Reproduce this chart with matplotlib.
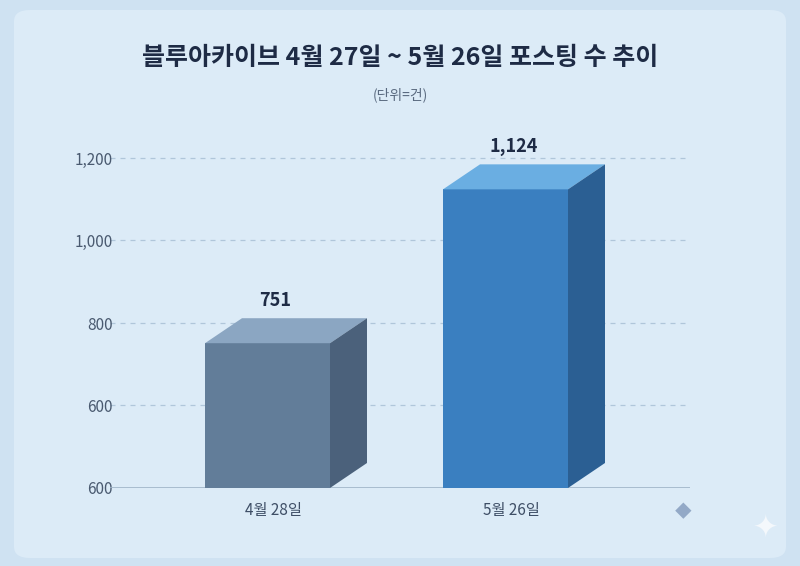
import matplotlib.pyplot as plt
from matplotlib.patches import Polygon, FancyBboxPatch

plt.rcParams['font.family'] = ['Noto Sans CJK KR', 'DejaVu Sans']

categories = ["4월 28일", "5월 26일"]
values = [751, 1124]
value_labels = ["751", "1,124"]
tick_vals = [400, 600, 800, 1000, 1200]
tick_labels = ["600", "600", "800", "1,000", "1,200"]

fronts = ["#627d99", "#3a7fc0"]
tops = ["#8ba6c2", "#6aaee2"]
sides = ["#4b617b", "#2b5f93"]

fig = plt.figure(figsize=(8, 5.66), dpi=100)
fig.patch.set_facecolor("#cfe2f2")
card = FancyBboxPatch((14 / 800, 8 / 566), 772 / 800, 548 / 566,
                      boxstyle="round,pad=0,rounding_size=0.02",
                      transform=fig.transFigure, facecolor="#dcebf7",
                      edgecolor="none", zorder=-5)
fig.patches.append(card)

ax = fig.add_axes([110 / 800, 78 / 566, 580 / 800, 348 / 566])
ax.set_zorder(2)
ax.set_facecolor("none")
ymin, ymax = 400, 400 + 348 / 82.5 * 200
ax.set_ylim(ymin, ymax)
ax.set_xlim(0, 580)
px_to_val = 200 / 82.5

for t in tick_vals[1:]:
    ax.axhline(t, color="#b0c6da", lw=0.9, ls=(0, (4, 4)), zorder=1)
ax.axhline(ymin, color="#9fb4c8", lw=1.2, zorder=2)

lefts = [95, 333]
width = 125
dx, dy = 37, 25 * px_to_val
for i, v in enumerate(values):
    x0 = lefts[i]
    x1 = x0 + width
    ax.add_patch(Polygon([(x0, ymin), (x1, ymin), (x1, v), (x0, v)],
                         closed=True, fc=fronts[i], ec="none", zorder=3))
    ax.add_patch(Polygon([(x0, v), (x1, v), (x1 + dx, v + dy), (x0 + dx, v + dy)],
                         closed=True, fc=tops[i], ec="none", zorder=3, clip_on=False))
    ax.add_patch(Polygon([(x1, ymin), (x1 + dx, ymin + dy), (x1 + dx, v + dy), (x1, v)],
                         closed=True, fc=sides[i], ec="none", zorder=3, clip_on=False))
    ax.text(x0 + width / 2 + 8, v + dy + 18 * px_to_val, value_labels[i],
            ha="center", va="center", fontsize=13, fontweight="bold",
            color="#1e2b45", zorder=4, clip_on=False)

ax.set_yticks(tick_vals)
ax.set_yticklabels(tick_labels, fontsize=11, color="#4a5a70")
ax.set_xticks([x + width / 2 + 6 for x in lefts])
ax.set_xticklabels(categories, fontsize=11, color="#3e4e66")
ax.tick_params(length=0, pad=10)
ax.tick_params(axis="y", pad=-2)
for s in ax.spines.values():
    s.set_visible(False)

fig.text(0.5, 1 - 58 / 566, "블루아카이브 4월 27일 ~ 5월 26일 포스팅 수 추이",
         ha="center", va="center", fontsize=18, fontweight="bold", color="#1e2b45")
fig.text(0.5, 1 - 95 / 566, "(단위=건)", ha="center", va="center",
         fontsize=10, color="#5a6a80")
fig.text(683 / 800, 1 - 513 / 566, "◆", ha="center", va="center",
         fontsize=12, color="#93a9c7")
fig.text(765 / 800, 1 - 528 / 566, "✦", ha="center", va="center",
         fontsize=22, color="#f4f8fc", family=["DejaVu Sans"])

fig.savefig("out.png", dpi=100, facecolor=fig.get_facecolor())
